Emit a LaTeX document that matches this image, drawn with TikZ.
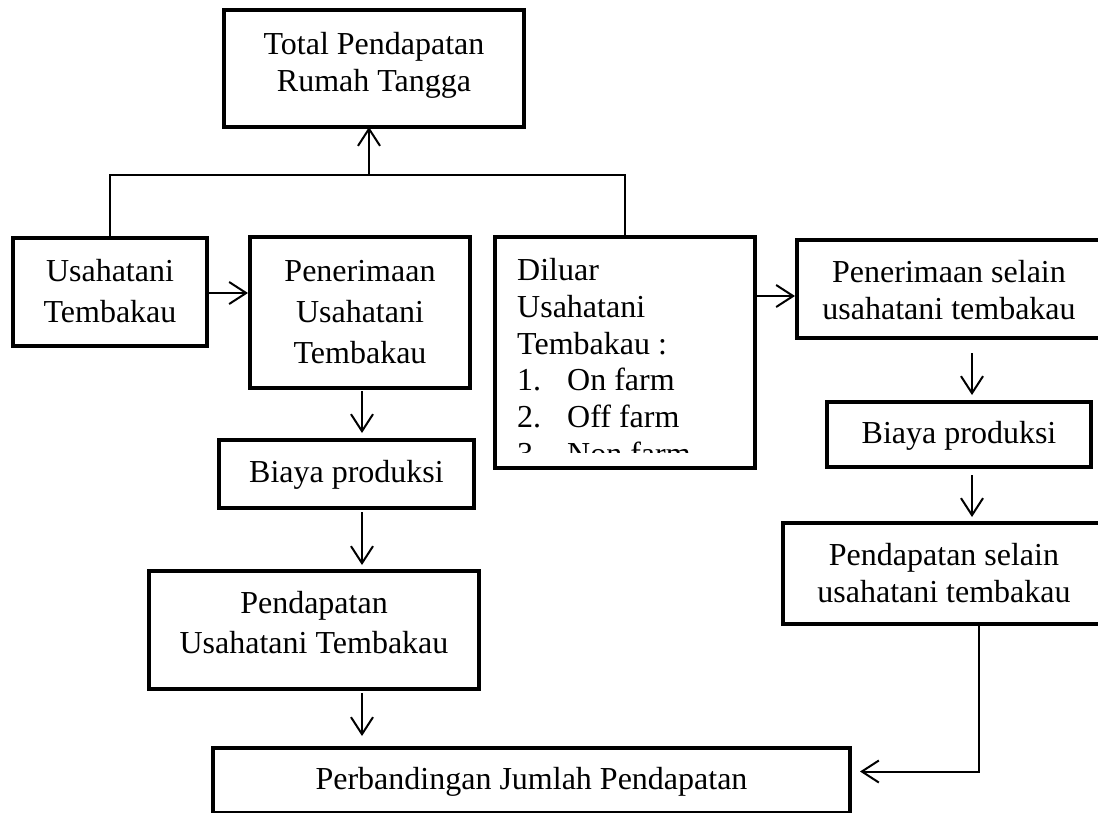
\documentclass[tikz,border=0pt]{standalone}
\usepackage{fontspec}
\setmainfont{Liberation Serif}
\usetikzlibrary{arrows.meta}
\newcommand{\ctxt}[3]{\raisebox{0pt}[#1pt][0pt]{\vbox{\baselineskip=#2pt\halign{\hfil##\hfil\cr#3\crcr}}}}
\begin{document}
\begin{tikzpicture}[x=1pt,y=-1pt,
  tb/.style={draw, line width=4.5pt, inner sep=0pt, outer sep=0pt, font=\fontsize{32pt}{37pt}\selectfont},
  conn/.style={line width=2pt},
  arr/.style={conn, -{Straight Barb[length=17pt,width=22pt]}}]
\useasboundingbox (0,0) rectangle (1098,812);
\clip (0,0) rectangle (1098,812);
\fill[white] (0,0) rectangle (1098,812);
% boxes
\node[tb, minimum width=300pt, minimum height=117pt] (top) at (374,68.5) {\ctxt{45}{36.7}{Total Pendapatan\cr Rumah Tangga}};
\node[tb, minimum width=194pt, minimum height=108pt] (usaha) at (110,292) {\ctxt{60}{41}{Usahatani\cr Tembakau}};
\node[tb, minimum width=220pt, minimum height=151pt] (pener) at (360,312.5) {\ctxt{101}{41}{Penerimaan\cr Usahatani\cr Tembakau}};
\node[tb, minimum width=255pt, minimum height=68pt] (biaya1) at (346.5,474) {\ctxt{16}{41}{Biaya produksi}};
\node[tb, minimum width=330pt, minimum height=118pt] (pend1) at (314,630) {\ctxt{46}{40}{Pendapatan\cr Usahatani Tembakau}};
\node[tb, minimum width=637pt, minimum height=65pt] (perb) at (531.5,780.5) {\ctxt{17}{37}{Perbandingan Jumlah Pendapatan}};
\node[tb, minimum width=260pt, minimum height=231pt] (diluar) at (625,352.5) {};
\node[tb, minimum width=304pt, minimum height=98pt] (pensel) at (949,289) {\ctxt{60}{37}{Penerimaan selain\cr usahatani tembakau}};
\node[tb, minimum width=264pt, minimum height=65pt] (biaya2) at (959,434.5) {\ctxt{17}{37}{Biaya produksi}};
\node[tb, minimum width=322pt, minimum height=101pt] (pdsel) at (944,573.5) {\ctxt{57}{37}{Pendapatan selain\cr usahatani tembakau}};
% clipped list inside the Diluar box
\begin{scope}
\clip (497,240) rectangle (753,452);
\node[anchor=base west, inner sep=0pt, font=\fontsize{32pt}{37pt}\selectfont] (dtext) at (517,280.7)
  {\vtop{\baselineskip=36.7pt \hbox{Diluar}\hbox{Usahatani}\hbox{Tembakau :}\hbox{\makebox[50pt][l]{1.}On farm}\hbox{\makebox[50pt][l]{2.}Off farm}\hbox{\makebox[50pt][l]{3.}Non farm}}};
\end{scope}
% connectors
\coordinate (j) at (369,175);
\draw[conn] (usaha.north) |- (j) -| (diluar.north);
\draw[arr] (j) -- (j |- top.south);
\draw[arr, shorten >=2pt] ([yshift=-1pt]usaha.east) -- ([yshift=-1pt]usaha.east -| pener.west);
\draw[arr, shorten >=2pt] ([yshift=-7pt]pensel.west -| diluar.east) -- ([yshift=-7pt]pensel.west);
\draw[arr, shorten <=3pt, shorten >=7pt] ([xshift=2pt]pener.south) -- ([xshift=2pt]pener.south |- biaya1.north);
\draw[arr, shorten <=4pt, shorten >=6pt] ([xshift=2pt]pener.south |- biaya1.south) -- ([xshift=2pt]pener.south |- pend1.north);
\draw[arr, shorten <=4pt, shorten >=12pt] ([xshift=2pt]pener.south |- pend1.south) -- ([xshift=2pt]pener.south |- perb.north);
\draw[arr, shorten <=15pt, shorten >=7pt] ([xshift=23pt]pensel.south) -- ([xshift=23pt]pensel.south |- biaya2.north);
\draw[arr, shorten <=8pt, shorten >=6pt] ([xshift=23pt]pensel.south |- biaya2.south) -- ([xshift=23pt]pensel.south |- pdsel.north);
\draw[arr, shorten >=10pt] ([xshift=35pt]pdsel.south) |- ([yshift=9pt]perb.east);
\end{tikzpicture}
\end{document}
